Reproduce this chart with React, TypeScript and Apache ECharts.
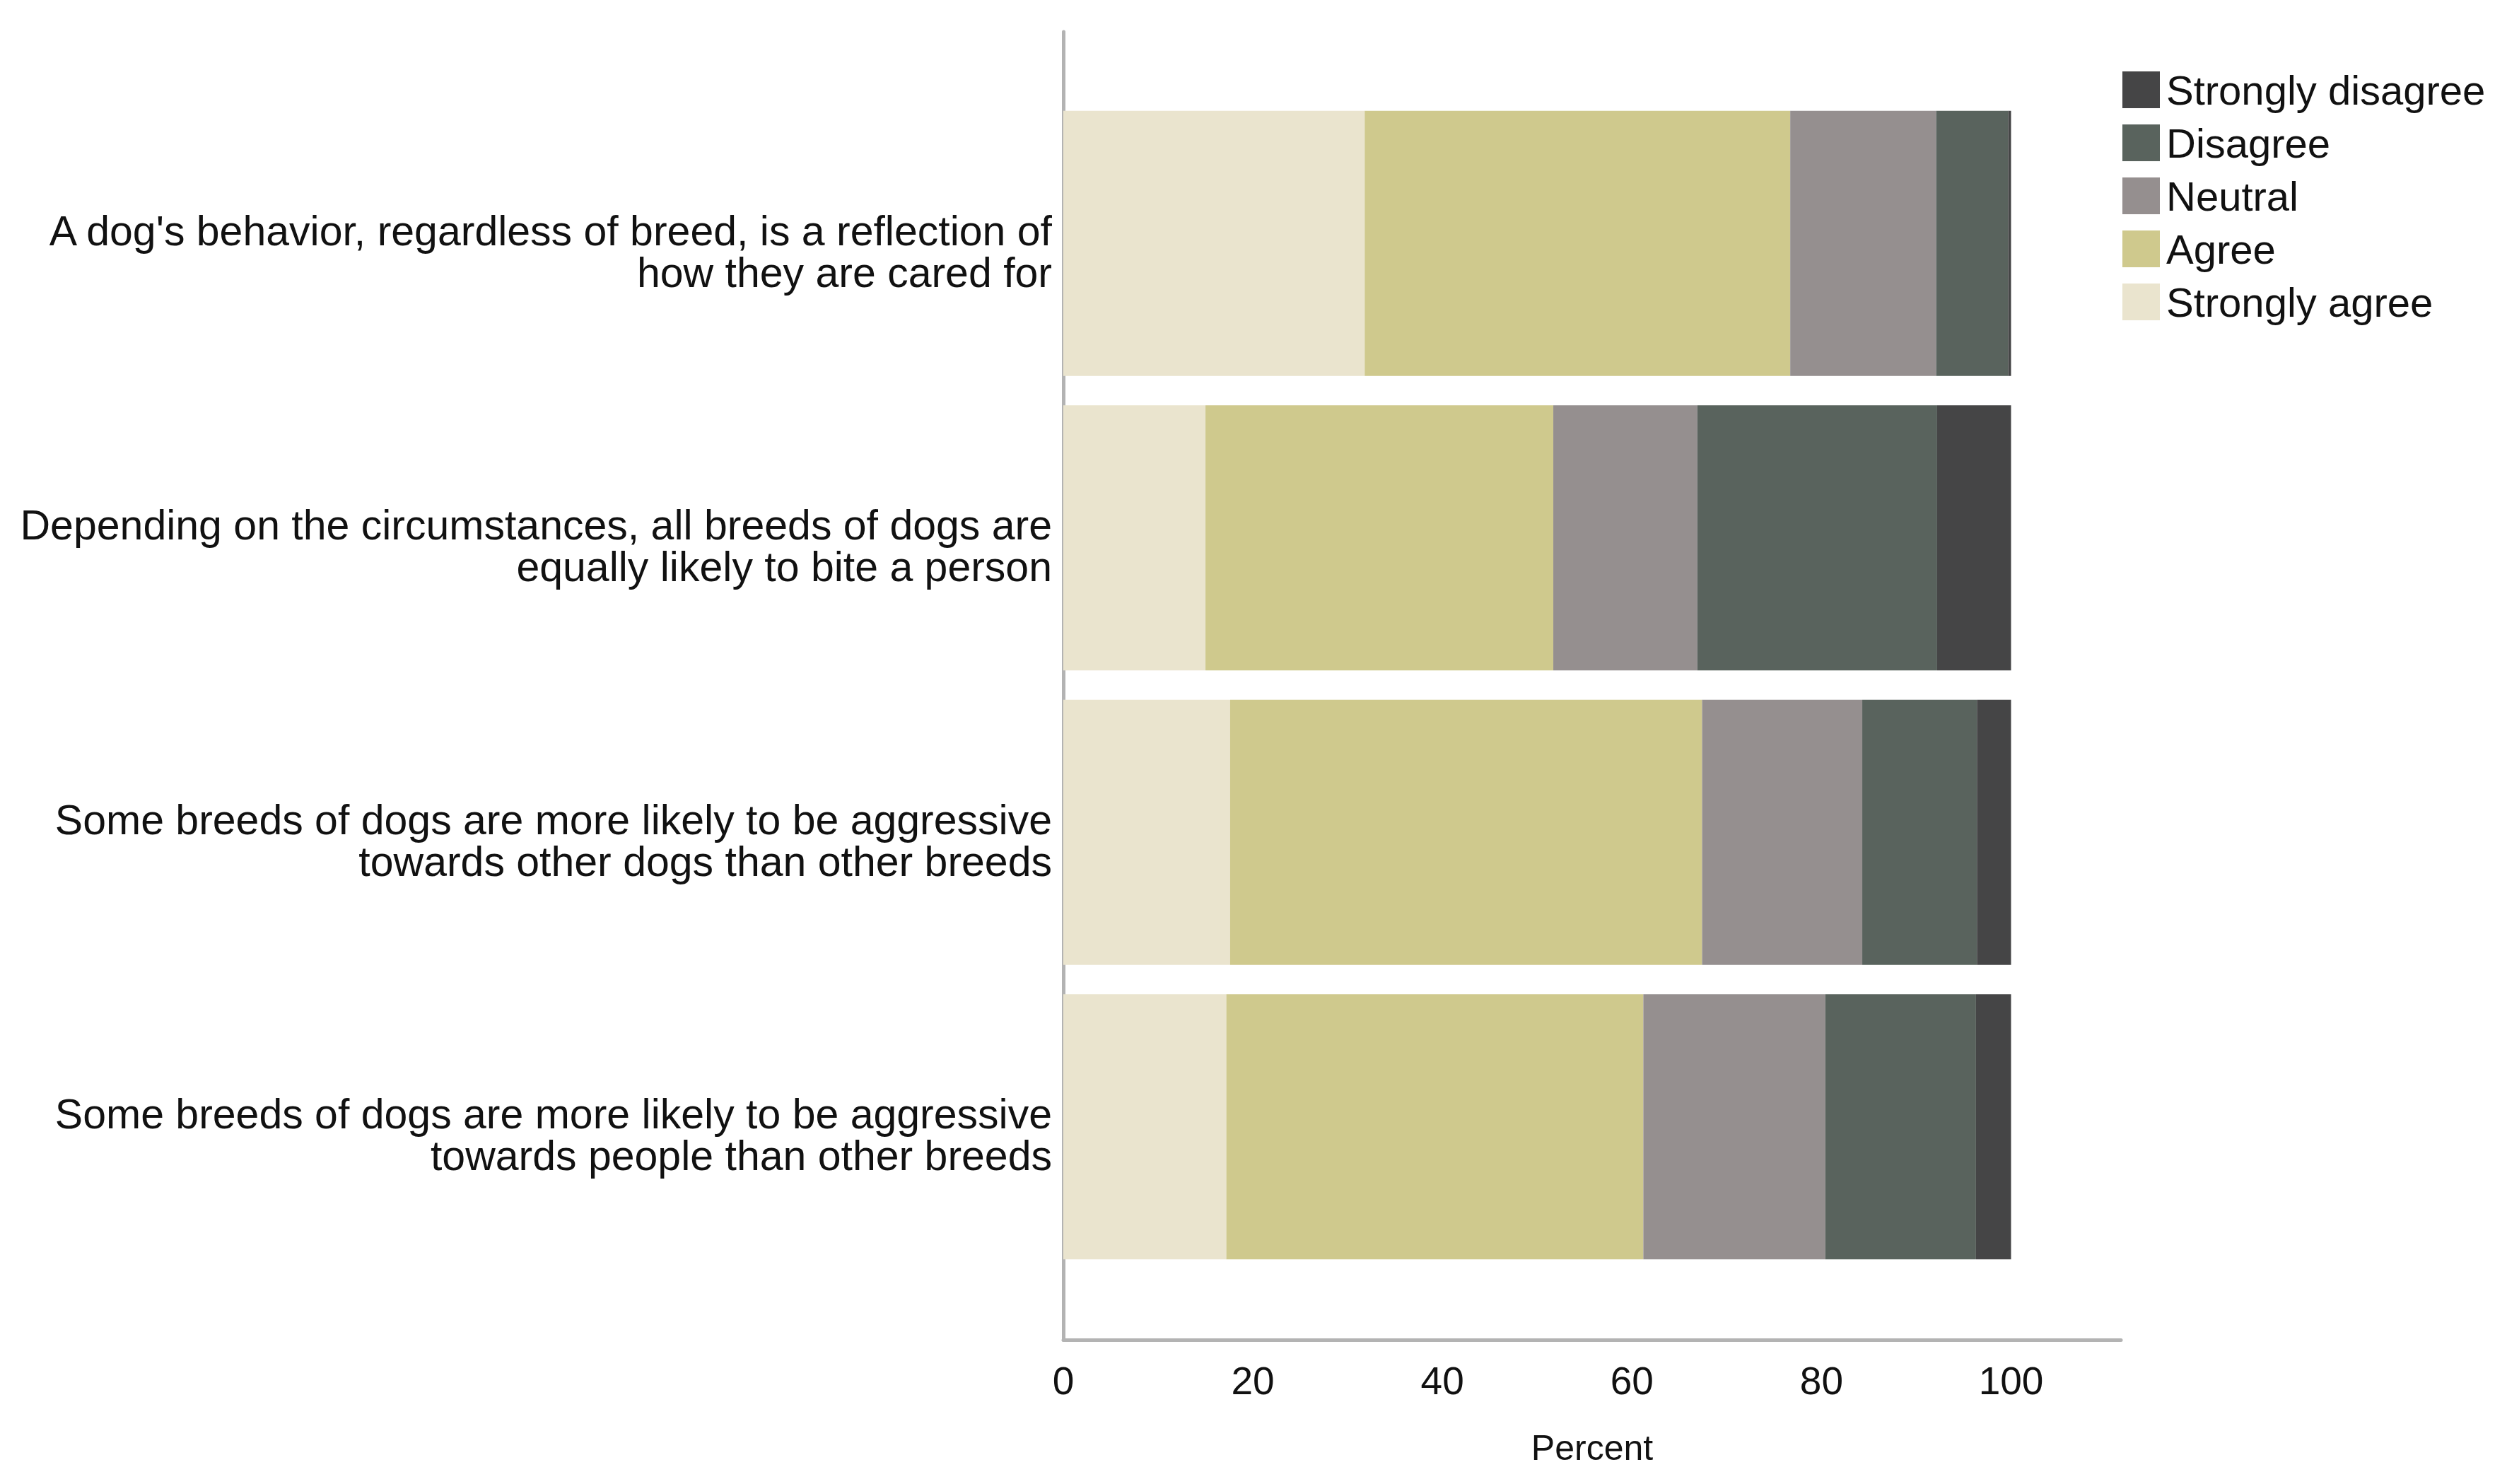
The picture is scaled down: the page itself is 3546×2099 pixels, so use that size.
import React, { useEffect, useRef } from "react";
import * as echarts from "echarts";

const categories = [
  "A dog's behavior, regardless of breed, is a reflection of\nhow they are cared for",
  "Depending on the circumstances, all breeds of dogs are\nequally likely to bite a person",
  "Some breeds of dogs are more likely to be aggressive\ntowards other dogs than other breeds",
  "Some breeds of dogs are more likely to be aggressive\ntowards people than other breeds",
];

const stronglyAgree = [31.8, 15.0, 17.6, 17.2];
const agree = [44.9, 36.7, 49.8, 44.0];
const neutral = [15.4, 15.2, 16.9, 19.2];
const disagree = [7.6, 25.3, 12.1, 15.9];
const stronglyDisagree = [0.3, 7.8, 3.6, 3.7];

const xTicks = [0, 20, 40, 60, 80, 100];
const legendOrder = ["Strongly disagree", "Disagree", "Neutral", "Agree", "Strongly agree"];

const seriesDefs = [
  { name: "Strongly agree", data: stronglyAgree, color: "#eae4ce" },
  { name: "Agree", data: agree, color: "#cfc98d" },
  { name: "Neutral", data: neutral, color: "#958f8f" },
  { name: "Disagree", data: disagree, color: "#59635d" },
  { name: "Strongly disagree", data: stronglyDisagree, color: "#454546" },
];

const FONT = "'Liberation Sans', Arial, sans-serif";

export default function App() {
  const ref = useRef<HTMLDivElement>(null);
  useEffect(() => {
    if (!ref.current) return;
    const chart = echarts.init(ref.current, undefined, { renderer: "svg" });
    const axisGray = "#b3b3b3";
    chart.setOption({
      animation: false,
      backgroundColor: "#ffffff",
      textStyle: { fontFamily: FONT },
      legend: {
        orient: "vertical",
        left: 2997,
        top: 93,
        itemWidth: 53,
        itemHeight: 52,
        itemGap: 17,
        icon: "rect",
        data: legendOrder,
        textStyle: {
          fontSize: 58,
          color: "#111111",
          fontFamily: FONT,
          padding: [0, 0, 0, 4],
        },
      },
      grid: [
        { left: 1504, width: 1496, top: 136, height: 1666, containLabel: false },
        { left: 1504, width: 1496, top: 45, height: 1850, containLabel: false },
      ],
      xAxis: [
        {
          type: "value",
          gridIndex: 0,
          min: 0,
          max: 111.6,
          interval: 20,
          offset: 93,
          axisLine: { show: true, lineStyle: { color: axisGray, width: 5 } },
          axisTick: { show: false },
          splitLine: { show: false },
          axisLabel: {
            fontSize: 55,
            color: "#111111",
            margin: 30,
            showMaxLabel: false,
            formatter: (v: number) => (xTicks.indexOf(v) >= 0 ? String(v) : ""),
          },
          name: "Percent",
          nameLocation: "middle",
          nameGap: 128,
          nameTextStyle: { fontSize: 50, color: "#111111", fontFamily: FONT },
        },
        {
          type: "value",
          gridIndex: 1,
          show: false,
          min: 0,
          max: 111.6,
        },
      ],
      yAxis: [
        {
          type: "category",
          gridIndex: 0,
          data: categories,
          inverse: true,
          axisLine: { show: false },
          axisTick: { show: false },
          splitLine: { show: false },
          axisLabel: {
            align: "right",
            verticalAlign: "middle",
            margin: 16,
            formatter: (v: string) =>
              "{s| }\n" + v.split("\n").map((l) => "{t|" + l + "}").join("\n"),
            rich: {
              s: { fontSize: 10, lineHeight: 24, align: "right" },
              t: {
                fontSize: 59,
                lineHeight: 59,
                color: "#111111",
                fontFamily: FONT,
                align: "right",
              },
            },
          },
        },
        {
          type: "value",
          gridIndex: 1,
          min: 0,
          max: 1,
          axisLine: { show: true, lineStyle: { color: axisGray, width: 5 } },
          axisTick: { show: false },
          axisLabel: { show: false },
          splitLine: { show: false },
        },
      ],
      series: seriesDefs.map((s) => ({
        name: s.name,
        type: "bar",
        stack: "total",
        xAxisIndex: 0,
        yAxisIndex: 0,
        barCategoryGap: "10%",
        data: s.data,
        itemStyle: { color: s.color },
        emphasis: { disabled: true },
      })),
    });
    return () => chart.dispose();
  }, []);
  return (
    <div
      ref={ref}
      style={{ position: "fixed", left: 0, top: 0, width: "3546px", height: "2099px" }}
    />
  );
}
